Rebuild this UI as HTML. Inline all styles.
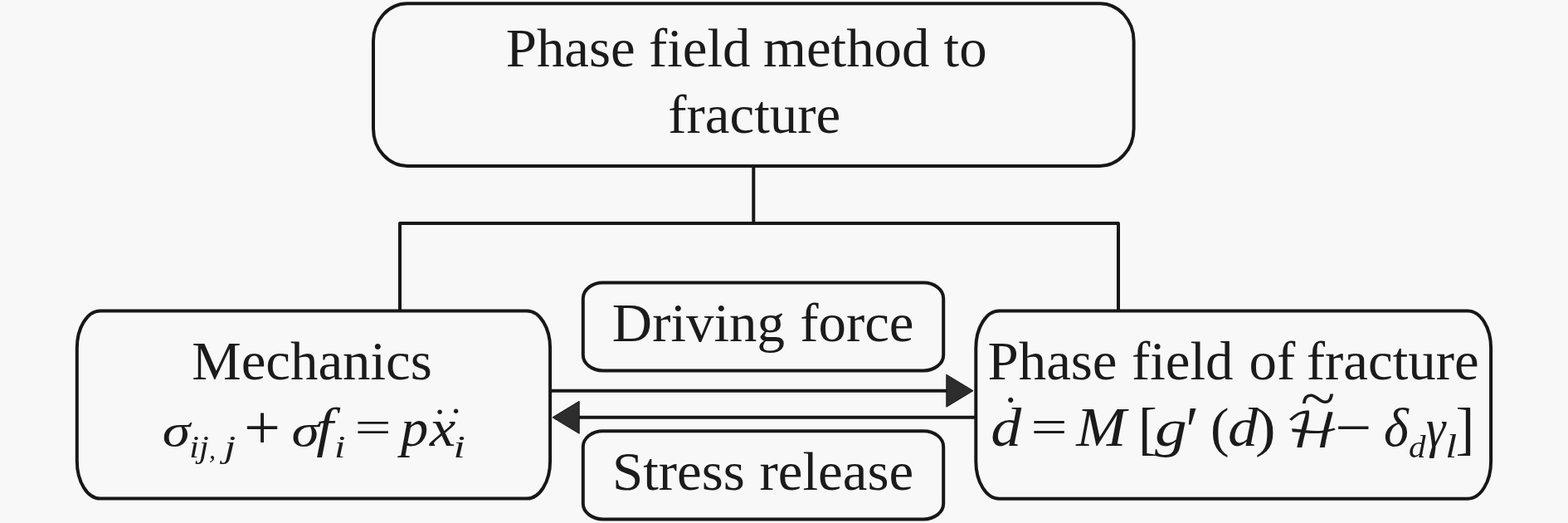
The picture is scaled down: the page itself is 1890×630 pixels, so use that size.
<!DOCTYPE html>
<html lang="en"><head><meta charset="utf-8"><title>Phase field method to fracture</title>
<style>
html,body{margin:0;padding:0;background:#f8f8f8;overflow:hidden}
svg{display:block;will-change:transform}
text{font-family:"Liberation Serif","DejaVu Serif",serif;fill:#1b1b1b;font-size:66px}
.i{font-style:italic}
.s{font-size:40px}
.h{font-family:"DejaVu Math TeX Gyre","DejaVu Sans","Liberation Serif",serif}
</style></head>
<body>
<svg width="1890" height="630" viewBox="0 0 1890 630">
<rect width="1890" height="630" fill="#f8f8f8"/>
<g fill="none" stroke="#171717" stroke-width="4" stroke-linejoin="round">
<rect x="450" y="4.3" width="916.6" height="195.6" rx="41" ry="45"/>
<path d="M908.3 200V269M482 374.5V269H1348V374.5"/>
<rect x="92.8" y="374.5" width="570.3" height="226.1" rx="28" ry="45"/>
<rect x="1176.3" y="374.5" width="620.8" height="226.2" rx="28" ry="45"/>
<rect x="702.8" y="340.5" width="434.4" height="106" rx="24" ry="19"/>
<rect x="702.8" y="519.2" width="434.4" height="106.3" rx="24" ry="19"/>
<path d="M663 470.7H1145M1176 502.8H695"/>
</g>
<path d="M1173 470.7L1140.8 451.2V490.2ZM666 502.8L698.2 483.3V522.3Z" fill="#2d2d2d" stroke="#151515" stroke-width="1" stroke-linejoin="miter"/>

<g>
<text transform="matrix(1.013 0 0 1.008 0 79.90)"><tspan x="601.95">Phase</tspan> <tspan x="771.85">field</tspan> <tspan x="908.13">method</tspan> <tspan x="1122.98">to</tspan></text>
<text transform="matrix(1.013 0 0 1.008 0 159.80)"><tspan x="795.01">fracture</tspan></text>
<text transform="matrix(1.013 0 0 1.008 0 456.70)"><tspan x="228.23">Mechanics</tspan></text>
<text transform="matrix(1.013 0 0 1.008 0 456.70)"><tspan x="1175.30">Phase</tspan> <tspan x="1346.53">field</tspan> <tspan x="1486.21">of</tspan> <tspan x="1554.58">fracture</tspan></text>
<text transform="matrix(1.013 0 0 1.008 0 410.70)"><tspan x="728.39">Driving</tspan> <tspan x="951.82">force</tspan></text>
<text transform="matrix(1.013 0 0 1.008 0 589.90)"><tspan x="728.57">Stress</tspan> <tspan x="903.79">release</tspan></text>
</g>
<g>
<text class="i" transform="matrix(1.031 0 0 0.826 195.84 536.68)">σ</text>
<text class="i s" transform="matrix(1.053 0 0 0.960 228.33 551.14)">ij</text>
<text class="i s" transform="matrix(0.800 0 0 0.800 251.90 551.75)">,</text>
<text class="i s" transform="matrix(1.256 0 0 0.971 270.34 551.04)">j</text>
<text transform="matrix(1.184 0 0 1.138 294.05 539.50)">+</text>
<text class="i" transform="matrix(1.028 0 0 0.826 351.54 536.68)">σ</text>
<text class="i" transform="matrix(1.120 0 0 1.003 381.37 537.35)">f</text>
<text class="i s" transform="matrix(1.200 0 0 0.958 403.00 551.40)">i</text>
<text transform="matrix(1.187 0 0 0.861 427.54 533.93)">=</text>
<text class="i" transform="matrix(1.007 0 0 0.951 483.08 537.38)">p</text>
<text class="i" transform="matrix(1.068 0 0 0.972 517.90 537.30)">x</text>
<text transform="matrix(0.800 0 0 0.800 521.20 528.50)">˙</text>
<text transform="matrix(0.800 0 0 0.800 540.70 528.30)">˙</text>
<text class="i s" transform="matrix(1.290 0 0 0.958 546.40 551.40)">i</text>
<text class="i" transform="matrix(1.120 0 0 1.002 1194.16 536.55)">d</text>
<text transform="matrix(0.900 0 0 0.900 1208.25 518.38)">˙</text>
<text transform="matrix(1.187 0 0 0.891 1242.54 534.35)">=</text>
<text class="i" transform="matrix(1.094 0 0 1.040 1297.22 537.10)">M</text>
<text transform="matrix(1.034 0 0 1.050 1371.93 540.12)">[</text>
<text class="i" transform="matrix(1.177 0 0 0.951 1392.10 537.38)">g</text>
<text transform="matrix(1.097 0 0 1.245 1429.34 545.95)">′</text>
<text transform="matrix(1.027 0 0 0.992 1459.02 536.81)">(</text>
<text class="i" transform="matrix(1.098 0 0 0.987 1479.90 536.56)">d</text>
<text transform="matrix(1.122 0 0 0.992 1512.97 536.81)">)</text>
<text class="h" transform="matrix(1.017 0 0 0.879 1548.46 538.80)">ℋ</text>
<text transform="matrix(1.166 0 0 1.009 1567.66 502.80)">~</text>
<text transform="matrix(1.184 0 0 1.077 1609.05 538.61)">−</text>
<text class="i" transform="matrix(0.969 0 0 0.997 1668.06 536.55)">δ</text>
<text class="i s" transform="matrix(1.029 0 0 0.959 1698.01 550.92)">d</text>
<text class="i" transform="matrix(0.899 0 0 0.983 1718.88 537.64)">γ</text>
<text class="i s" transform="matrix(1.250 0 0 0.977 1742.19 551.40)">l</text>
<text transform="matrix(1.034 0 0 1.050 1754.51 540.12)">]</text>
</g>
</svg>
</body></html>
